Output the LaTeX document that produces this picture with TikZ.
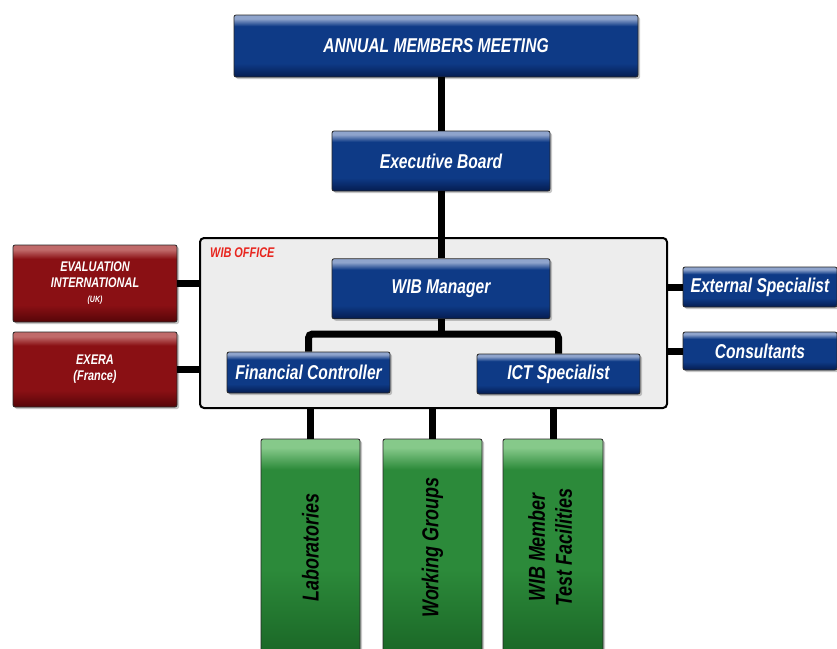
\documentclass[tikz,border=0pt]{standalone}
\usepackage{fontspec}
\newfontfamily\orgfont[FakeStretch=0.78]{Liberation Sans}
\usepackage{xcolor}
\definecolor{cBlue}{HTML}{0E3A86}
\definecolor{cBlueTop}{HTML}{8FA4CC}
\definecolor{cBlueBot}{HTML}{051C50}
\definecolor{cRed}{HTML}{8A1014}
\definecolor{cRedTop}{HTML}{C06A6A}
\definecolor{cRedBot}{HTML}{560508}
\definecolor{cGreen}{HTML}{2C8A3A}
\definecolor{cGreenTop}{HTML}{86C98A}
\definecolor{cGreenBot}{HTML}{1A6626}
\definecolor{cOffice}{HTML}{EDEDED}
\definecolor{cLabel}{HTML}{E8251E}
\usepackage{tikz}
\usetikzlibrary{positioning,shadows}
% glossy fills: thin light band on top, dark bottom
\pgfdeclareverticalshading{gloss-blue}{100bp}{color(0bp)=(cBlueBot); color(25bp)=(cBlueBot);
  color(36bp)=(cBlue); color(66bp)=(cBlue); color(72bp)=(cBlueTop); color(100bp)=(cBlueTop)}
\pgfdeclareverticalshading{gloss-red}{100bp}{color(0bp)=(cRedBot); color(25bp)=(cRedBot);
  color(36bp)=(cRed); color(66bp)=(cRed); color(72bp)=(cRedTop); color(100bp)=(cRedTop)}
\pgfdeclareverticalshading{gloss-green}{100bp}{color(0bp)=(cGreenBot); color(25bp)=(cGreenBot);
  color(45bp)=(cGreen); color(68bp)=(cGreen); color(73bp)=(cGreenTop); color(100bp)=(cGreenTop)}
\tikzset{
  org-box/.style={draw=black!85,line width=0.8pt,rounded corners=2pt,
    align=center,inner sep=0pt,
    font=\orgfont\bfseries\itshape\fontsize{20}{22}\selectfont,
    drop shadow={shadow xshift=2pt,shadow yshift=-2pt,opacity=0.45}},
  org-blue/.style={shading=gloss-blue,text=white},
  org-red/.style={shading=gloss-red,
    text=white,font=\orgfont\bfseries\itshape\fontsize{14}{16}\selectfont},
  org-green/.style={shading=gloss-green,
    text=black,font=\orgfont\bfseries\itshape\fontsize{23}{27}\selectfont},
  office-box/.style={draw=black,line width=2pt,rounded corners=4pt,fill=cOffice},
  link/.style={line width=7pt,draw=black},
}

\begin{document}
\begin{tikzpicture}[x=1pt,y=-1pt]
  \useasboundingbox (0,0) rectangle (837,648);
  \node[office-box,minimum width=467pt,minimum height=170pt] (office) at (433.5,323) {};
  \node[anchor=north west,inner sep=0pt,text=cLabel,
    font=\orgfont\bfseries\itshape\fontsize{14}{16}\selectfont] (offlbl)
    at ([shift={(11,11)}]office.north west) {WIB OFFICE};
  \node[org-box,org-blue,minimum width=404pt,minimum height=62pt] (amm) at (436,46) {ANNUAL MEMBERS MEETING};
  \node[org-box,org-blue,minimum width=218pt,minimum height=60pt] (exec) at (441,161) {Executive Board};
  \node[org-box,org-blue,minimum width=218pt,minimum height=60pt,below=67pt of exec] (mgr) {WIB Manager};
  \node[org-box,org-blue,minimum width=163pt,minimum height=41pt] (fin) at (308.5,372.5) {Financial Controller};
  \node[org-box,org-blue,minimum width=163pt,minimum height=40pt] (ict) at (558.5,374) {ICT Specialist};
  \node[org-box,org-blue,minimum width=154pt,minimum height=40pt] (ext) at (760,287) {External Specialist};
  \node[org-box,org-blue,minimum width=154pt,minimum height=38pt] (cons) at (760,351) {Consultants};
  \node[org-box,org-red,minimum width=164pt,minimum height=77pt] (evint) at (95,283.5)
    {EVALUATION\\INTERNATIONAL\\[-1pt]{\fontsize{9}{10}\selectfont (UK)}};
  \node[org-box,org-red,minimum width=164pt,minimum height=75pt] (exera) at (95,369.5) {EXERA\\(France)};
  \node[org-box,org-green,minimum width=99pt,minimum height=217pt] (lab) at (310.5,547.5)
    {\rotatebox{90}{Laboratories}};
  \node[org-box,org-green,minimum width=99pt,minimum height=217pt] (wg) at (432.5,547.5)
    {\rotatebox{90}{Working Groups}};
  \node[org-box,org-green,minimum width=100pt,minimum height=217pt] (wmt) at (553,547.5)
    {\rotatebox{90}{\begin{tabular}{@{}c@{}}WIB Member\\Test Facilities\end{tabular}}};
  \coordinate (bar) at (441,334);
  \draw[link] (amm.south -| exec) -- (exec.north);
  \draw[link] (exec.south) -- (mgr.north);
  \draw[link] (mgr.south) -- (bar);
  \draw[link,rounded corners=4pt] (fin.north) |- (bar) -| (ict.north);
  \draw[link] (evint.east) -- (evint.east -| office.west);
  \draw[link] (exera.east) -- (exera.east -| office.west);
  \draw[link] (ext.west) -- (ext.west -| office.east);
  \draw[link] (cons.west) -- (cons.west -| office.east);
  \draw[link] (lab.north) -- (lab.north |- office.south);
  \draw[link] (wg.north) -- (wg.north |- office.south);
  \draw[link] (wmt.north) -- (wmt.north |- office.south);
\end{tikzpicture}
\end{document}
